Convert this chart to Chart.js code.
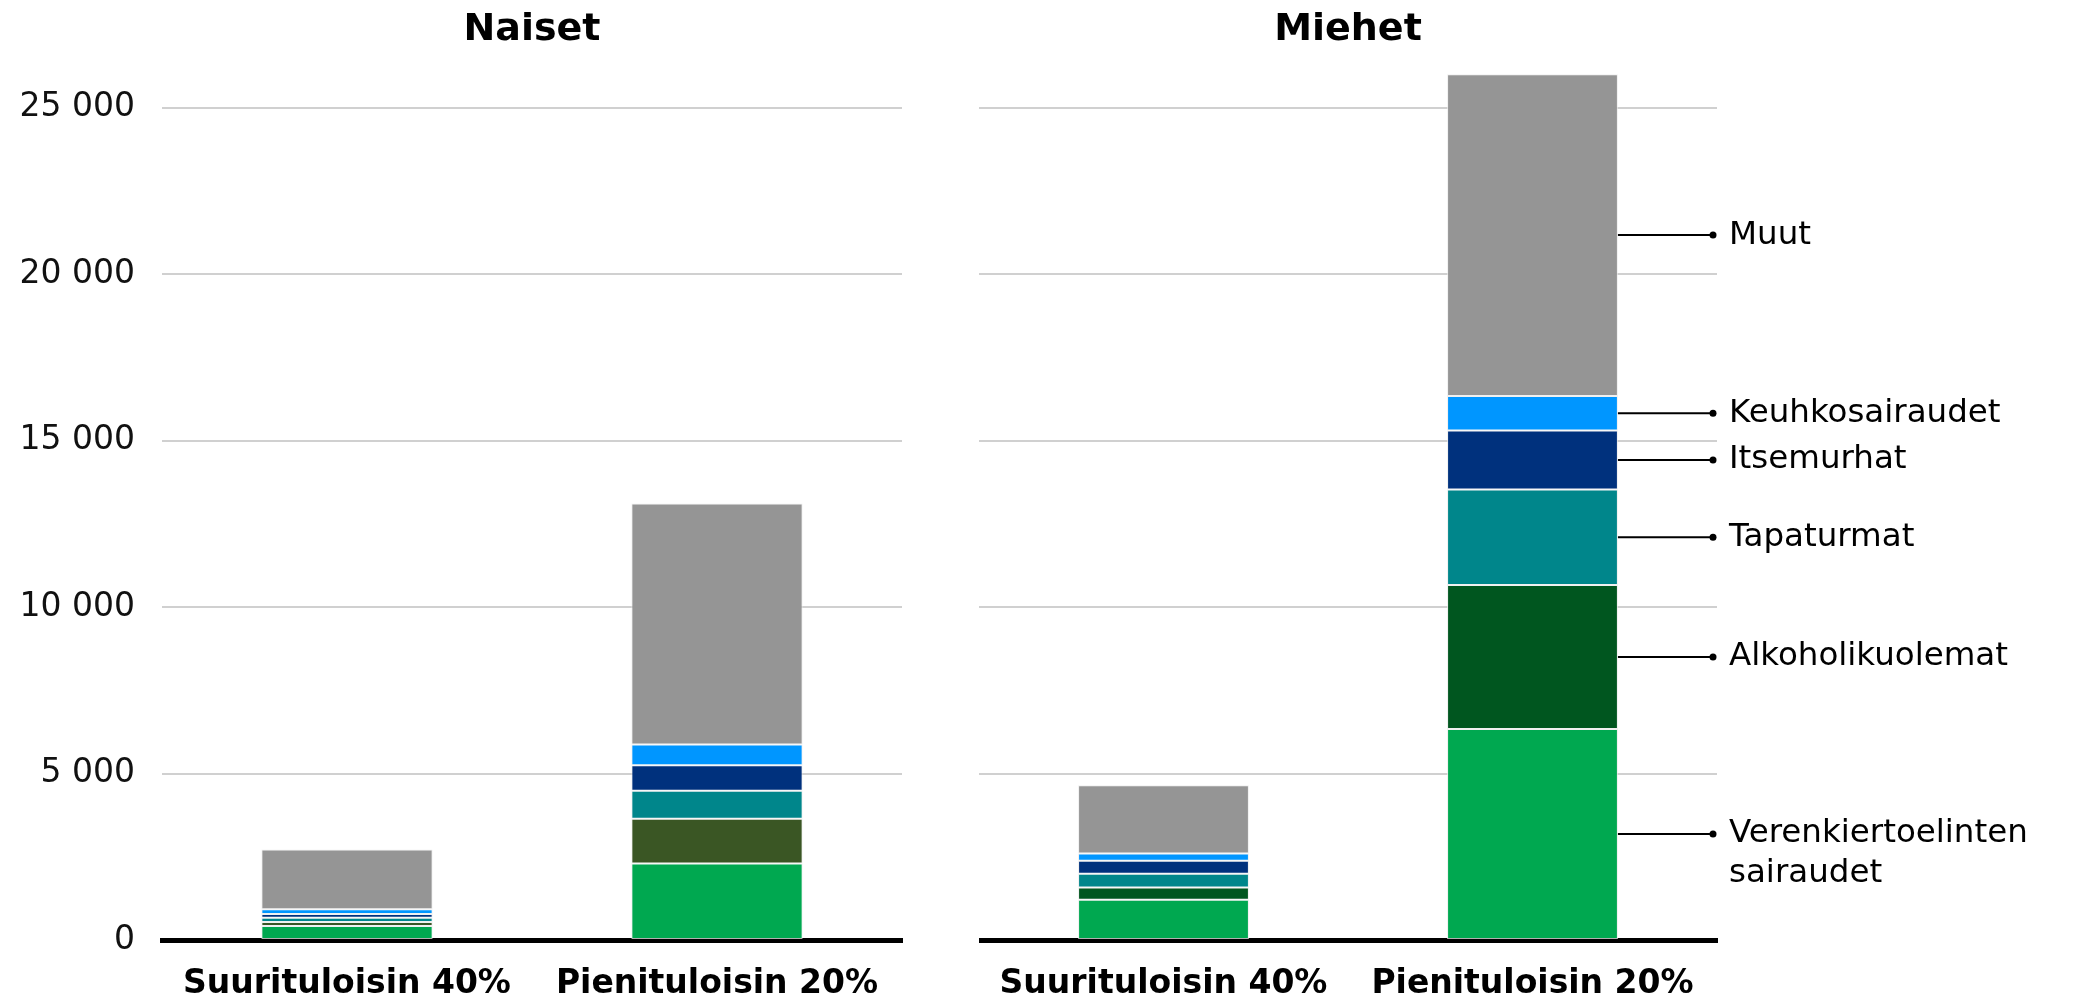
<!DOCTYPE html>
<html lang="fi">
<head>
<meta charset="utf-8">
<title>Kuolemat tuloryhmittäin</title>
<script src="https://cdn.jsdelivr.net/npm/chart.js@4.4.1/dist/chart.umd.min.js"></script>
<style>
    html, body { margin: 0; padding: 0; background: #fff; }
    body { width: 2082px; height: 1000px; position: relative; overflow: hidden; }
    .panel { position: absolute; top: 0; height: 1000px; }
    #naiset-wrap { left: 0; width: 920px; }
    #miehet-wrap { left: 979px; width: 1103px; }
</style>
</head>
<body>
<div class="panel" id="naiset-wrap"><canvas id="naiset"></canvas></div>
<div class="panel" id="miehet-wrap"><canvas id="miehet"></canvas></div>
<script>
var categories = ['Suurituloisin 40%', 'Pienituloisin 20%'];
var causeLabels = [
    ['Verenkiertoelinten', 'sairaudet'],
    ['Alkoholikuolemat'],
    ['Tapaturmat'],
    ['Itsemurhat'],
    ['Keuhkosairaudet'],
    ['Muut']
];
var yTicks = [0, 5000, 10000, 15000, 20000, 25000];

// Naiset: [suurituloisin, pienituloisin]
var naisetVerenkierto = [420, 2300];
var naisetAlkoholi = [120, 1340];
var naisetTapaturmat = [130, 840];
var naisetItsemurhat = [110, 770];
var naisetKeuhko = [140, 620];
var naisetMuut = [1800, 7240];

// Miehet
var miehetVerenkierto = [1210, 6340];
var miehetAlkoholi = [370, 4320];
var miehetTapaturmat = [410, 2870];
var miehetItsemurhat = [390, 1770];
var miehetKeuhko = [220, 1040];
var miehetMuut = [2050, 9660];

var FONT = "'DejaVu Sans', sans-serif";
var colorsNaiset = ['#00a850', '#3a5624', '#00868b', '#00317d', '#0096ff', '#959595'];
var colorsMiehet = ['#00a850', '#00561f', '#00868b', '#00317d', '#0096ff', '#959595'];

function buildDatasets(series, colors) {
    return series.map(function(values, i) {
        return {
            label: causeLabels[i].join(' '),
            data: values,
            backgroundColor: colors[i],
            borderColor: 'rgba(235,235,235,0.75)',
            borderWidth: 1,
            borderSkipped: false,
            categoryPercentage: 1,
            barPercentage: 0.463
        };
    });
}

function formatThousands(v) {
    return String(v).replace(/\B(?=(\d{3})+(?!\d))/g, ' ');
}

// panel heading centred over the plot area
var panelTitle = {
    id: 'panelTitle',
    afterDraw: function(chart, args, opts) {
        var ctx = chart.ctx;
        var area = chart.chartArea;
        ctx.save();
        ctx.font = 'bold 38px ' + FONT;
        ctx.fillStyle = '#000';
        ctx.textAlign = 'center';
        ctx.textBaseline = 'alphabetic';
        ctx.fillText(opts.text, (area.left + area.right) / 2, 40);
        ctx.restore();
    }
};

// labels with leader lines next to the last bar
var sideLabels = {
    id: 'sideLabels',
    afterDatasetsDraw: function(chart, args, opts) {
        if (!opts.show) return;
        var ctx = chart.ctx;
        var area = chart.chartArea;
        ctx.save();
        chart.data.datasets.forEach(function(ds, i) {
            var bar = chart.getDatasetMeta(i).data[1];
            var y = (bar.y + bar.base) / 2;
            var x0 = bar.x + bar.width / 2;
            var x1 = area.right - 4;
            ctx.strokeStyle = '#000';
            ctx.lineWidth = 2;
            ctx.beginPath();
            ctx.moveTo(x0, y);
            ctx.lineTo(x1, y);
            ctx.stroke();
            ctx.fillStyle = '#000';
            ctx.beginPath();
            ctx.arc(x1, y, 3.5, 0, Math.PI * 2);
            ctx.fill();
            ctx.font = '32.5px ' + FONT;
            ctx.textAlign = 'left';
            ctx.textBaseline = 'middle';
            causeLabels[i].forEach(function(line, k) {
                ctx.fillText(line, area.right + 12, y + k * 40);
            });
        });
        ctx.restore();
    }
};

function makeChart(id, title, series, colors, isLeft) {
    return new Chart(document.getElementById(id), {
        type: 'bar',
        data: {
            labels: categories,
            datasets: buildDatasets(series, colors)
        },
        options: {
            responsive: true,
            maintainAspectRatio: false,
            animation: false,
            layout: {
                padding: { top: 41, bottom: 0, left: 0, right: isLeft ? 18 : 365 }
            },
            plugins: {
                legend: { display: false },
                tooltip: { enabled: false },
                panelTitle: { text: title },
                sideLabels: { show: !isLeft }
            },
            scales: {
                x: {
                    stacked: true,
                    grid: { display: false },
                    border: { display: true, color: '#000', width: 5 },
                    ticks: {
                        color: '#000',
                        padding: 17,
                        maxRotation: 0,
                        font: { family: FONT, size: 33, weight: 'bold' }
                    },
                    afterFit: function(scale) { scale.height = 60; }
                },
                y: {
                    stacked: true,
                    min: 0,
                    max: 27000,
                    border: { display: false },
                    grid: { color: '#d0d0d0', lineWidth: 2, drawTicks: false },
                    afterBuildTicks: function(scale) {
                        scale.ticks = yTicks.map(function(v) { return { value: v }; });
                    },
                    ticks: {
                        display: isLeft,
                        color: '#111',
                        padding: 27,
                        font: { family: FONT, size: 33 },
                        callback: function(v) { return formatThousands(v); }
                    },
                    afterFit: function(scale) {
                        scale.width = isLeft ? 162 : 0;
                        // keep the tick labels from pushing the plot area down
                        scale.paddingTop = 0;
                        scale.paddingBottom = 0;
                    }
                }
            }
        },
        plugins: [panelTitle, sideLabels]
    });
}

makeChart('naiset', 'Naiset',
    [naisetVerenkierto, naisetAlkoholi, naisetTapaturmat, naisetItsemurhat, naisetKeuhko, naisetMuut],
    colorsNaiset, true);
makeChart('miehet', 'Miehet',
    [miehetVerenkierto, miehetAlkoholi, miehetTapaturmat, miehetItsemurhat, miehetKeuhko, miehetMuut],
    colorsMiehet, false);
</script>
</body>
</html>
